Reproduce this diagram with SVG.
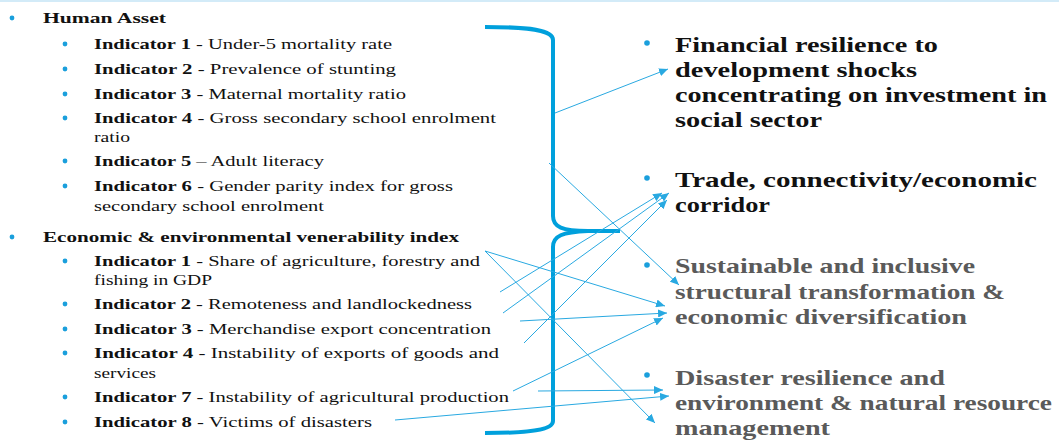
<svg xmlns="http://www.w3.org/2000/svg" width="1059" height="440" viewBox="0 0 1059 440">
  <style>
    .item { font-family: "Liberation Serif", "DejaVu Serif", serif; font-size: 15px; fill: #111; }
    .item .b { font-weight: bold; }
    .goal { font-family: "Liberation Serif", "DejaVu Serif", serif; font-size: 22px; font-weight: bold; }
    .dark { fill: #111; }
    .grey { fill: #5a5a5a; }
    .dot { fill: #1a9fdc; }
    .brace { fill: none; stroke: #00a0dc; stroke-width: 4; stroke-linecap: butt; }
    .link { stroke: #29a9e1; stroke-width: 1; fill: none; marker-end: url(#tip); }
  </style>
  <defs>
    <marker id="tip" markerUnits="userSpaceOnUse" markerWidth="10" markerHeight="8" refX="9" refY="4" orient="auto">
      <path d="M0,0 L9,4 L0,8 Z" fill="#29a9e1"/>
    </marker>
  </defs>

  <rect width="1059" height="440" fill="#ffffff"/>
  <rect x="0" y="0" width="1059" height="2" fill="#d3ebf8"/>

  <!-- Human asset indicators -->
  <g id="human-asset">
    <circle class="dot" cx="12" cy="18" r="2.4"/>
    <text class="item" x="43" y="23" textLength="123" lengthAdjust="spacingAndGlyphs"><tspan class="b">Human Asset</tspan></text>
    <circle class="dot" cx="65" cy="44" r="2.4"/>
    <text class="item" x="94" y="49" textLength="298" lengthAdjust="spacingAndGlyphs"><tspan class="b">Indicator 1</tspan> - Under-5 mortality rate</text>
    <circle class="dot" cx="65" cy="69" r="2.4"/>
    <text class="item" x="94" y="74" textLength="302" lengthAdjust="spacingAndGlyphs"><tspan class="b">Indicator 2</tspan> - Prevalence of  stunting</text>
    <circle class="dot" cx="65" cy="94" r="2.4"/>
    <text class="item" x="94" y="99" textLength="312" lengthAdjust="spacingAndGlyphs"><tspan class="b">Indicator 3</tspan> - Maternal mortality ratio</text>
    <circle class="dot" cx="65" cy="118" r="2.4"/>
    <text class="item" x="94" y="123" textLength="402" lengthAdjust="spacingAndGlyphs"><tspan class="b">Indicator 4</tspan> - Gross secondary school enrolment</text>
    <text class="item" x="94" y="142" textLength="36" lengthAdjust="spacingAndGlyphs">ratio</text>
    <circle class="dot" cx="65" cy="161" r="2.4"/>
    <text class="item" x="94" y="166" textLength="230" lengthAdjust="spacingAndGlyphs"><tspan class="b">Indicator 5</tspan> – Adult literacy</text>
    <circle class="dot" cx="65" cy="186" r="2.4"/>
    <text class="item" x="94" y="191" textLength="359" lengthAdjust="spacingAndGlyphs"><tspan class="b">Indicator 6</tspan> - Gender parity index for gross</text>
    <text class="item" x="94" y="211" textLength="230" lengthAdjust="spacingAndGlyphs">secondary school enrolment</text>
  </g>

  <!-- Economic & environmental vulnerability indicators -->
  <g id="economic-index">
    <circle class="dot" cx="12" cy="237" r="2.4"/>
    <text class="item" x="43" y="242" textLength="416" lengthAdjust="spacingAndGlyphs"><tspan class="b">Economic &amp; environmental venerability index</tspan></text>
    <circle class="dot" cx="65" cy="261" r="2.4"/>
    <text class="item" x="94" y="266" textLength="386" lengthAdjust="spacingAndGlyphs"><tspan class="b">Indicator 1</tspan> - Share of agriculture, forestry and</text>
    <text class="item" x="94" y="285" textLength="118" lengthAdjust="spacingAndGlyphs">fishing in GDP</text>
    <circle class="dot" cx="65" cy="304" r="2.4"/>
    <text class="item" x="94" y="309" textLength="378" lengthAdjust="spacingAndGlyphs"><tspan class="b">Indicator 2</tspan> - Remoteness and landlockedness</text>
    <circle class="dot" cx="65" cy="329" r="2.4"/>
    <text class="item" x="94" y="334" textLength="397" lengthAdjust="spacingAndGlyphs"><tspan class="b">Indicator 3</tspan> - Merchandise export concentration</text>
    <circle class="dot" cx="65" cy="353" r="2.4"/>
    <text class="item" x="94" y="358" textLength="405" lengthAdjust="spacingAndGlyphs"><tspan class="b">Indicator 4</tspan> - Instability of  exports of  goods and</text>
    <text class="item" x="94" y="378" textLength="62" lengthAdjust="spacingAndGlyphs">services</text>
    <circle class="dot" cx="65" cy="397" r="2.4"/>
    <text class="item" x="94" y="402" textLength="415" lengthAdjust="spacingAndGlyphs"><tspan class="b">Indicator 7</tspan> - Instability of  agricultural production</text>
    <circle class="dot" cx="65" cy="422" r="2.4"/>
    <text class="item" x="94" y="427" textLength="278" lengthAdjust="spacingAndGlyphs"><tspan class="b">Indicator 8</tspan> - Victims of  disasters</text>
  </g>

  <!-- Curly brace grouping both indexes -->
  <g id="brace">
    <path class="brace" d="M485,27 C530,27 553,30 553,40 L553,216 C553,227 562,231 588,231"/>
    <path class="brace" d="M588,231 C562,232 553,236 553,247 L553,421 C553,430 530,433 485,433"/>
    <path class="brace" d="M576,231 L620,231"/>
  </g>

  <!-- Goal areas -->
  <g id="goal-financial">
    <circle class="dot" cx="647" cy="43" r="2.8"/>
    <text class="goal dark" x="675" y="52" textLength="263" lengthAdjust="spacingAndGlyphs">Financial resilience to</text>
    <text class="goal dark" x="675" y="77" textLength="242" lengthAdjust="spacingAndGlyphs">development shocks</text>
    <text class="goal dark" x="675" y="102" textLength="372" lengthAdjust="spacingAndGlyphs">concentrating on investment in</text>
    <text class="goal dark" x="675" y="127" textLength="147" lengthAdjust="spacingAndGlyphs">social sector</text>
  </g>
  <g id="goal-trade">
    <circle class="dot" cx="647" cy="178" r="2.8"/>
    <text class="goal dark" x="675" y="187" textLength="362" lengthAdjust="spacingAndGlyphs">Trade, connectivity/economic</text>
    <text class="goal dark" x="675" y="212" textLength="95" lengthAdjust="spacingAndGlyphs">corridor</text>
  </g>
  <g id="goal-transformation">
    <circle class="dot" cx="647" cy="265" r="2.8"/>
    <text class="goal grey" x="675" y="273" textLength="300" lengthAdjust="spacingAndGlyphs">Sustainable and inclusive</text>
    <text class="goal grey" x="675" y="299" textLength="330" lengthAdjust="spacingAndGlyphs">structural transformation &amp;</text>
    <text class="goal grey" x="675" y="324" textLength="292" lengthAdjust="spacingAndGlyphs">economic diversification</text>
  </g>
  <g id="goal-disaster">
    <circle class="dot" cx="647" cy="375" r="2.8"/>
    <text class="goal grey" x="675" y="385" textLength="270" lengthAdjust="spacingAndGlyphs">Disaster resilience and</text>
    <text class="goal grey" x="675" y="410" textLength="377" lengthAdjust="spacingAndGlyphs">environment &amp; natural resource</text>
    <text class="goal grey" x="675" y="435" textLength="155" lengthAdjust="spacingAndGlyphs">management</text>
  </g>

  <!-- Links from indicators to goal areas -->
  <g id="connectors">
    <line class="link" x1="555" y1="113" x2="668" y2="69"/>
    <line class="link" x1="549" y1="163" x2="679" y2="285"/>
    <line class="link" x1="500" y1="292" x2="662" y2="193"/>
    <line class="link" x1="503" y1="313" x2="669" y2="193"/>
    <line class="link" x1="524" y1="343" x2="667" y2="200"/>
    <line class="link" x1="485" y1="251" x2="665" y2="306"/>
    <line class="link" x1="485" y1="251" x2="655" y2="423"/>
    <line class="link" x1="520" y1="321" x2="667" y2="313"/>
    <line class="link" x1="513" y1="391" x2="663" y2="318"/>
    <line class="link" x1="538" y1="391" x2="663" y2="390"/>
    <line class="link" x1="395" y1="420" x2="669" y2="396"/>
  </g>
</svg>
